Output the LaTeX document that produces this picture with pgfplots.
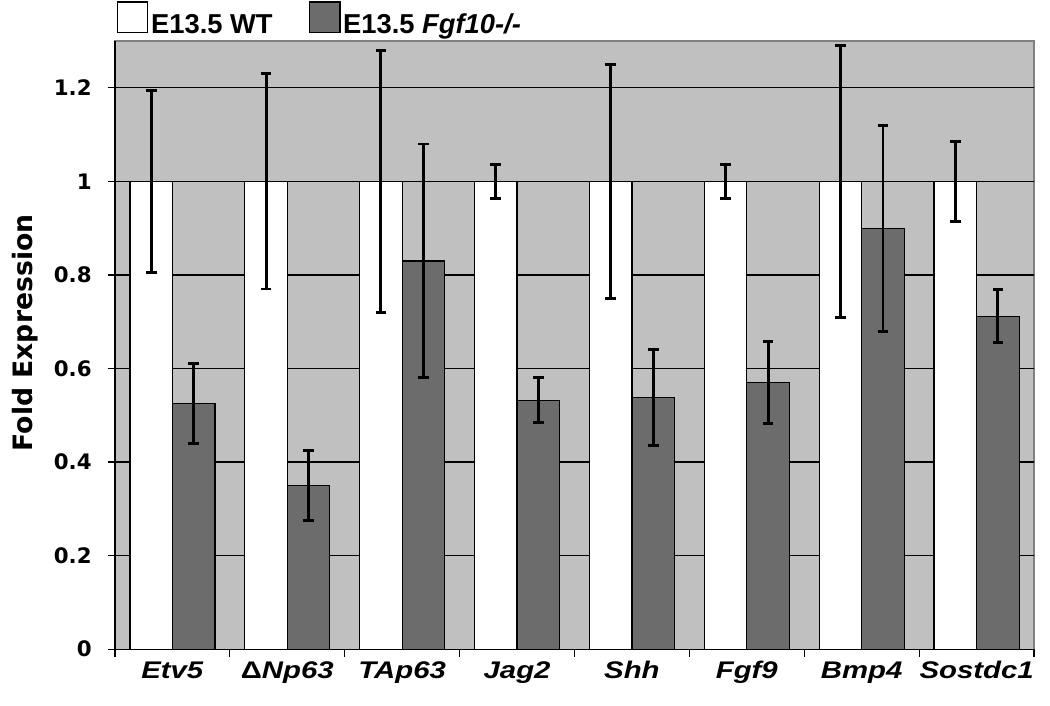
\documentclass[border=0pt]{standalone}
\usepackage{pgfplots}
\pgfplotsset{compat=1.18}
\usepackage{fontspec}
\setmainfont{Liberation Sans}
\newfontfamily\dv{DejaVu Sans}
\definecolor{bgray}{RGB}{192,192,192}
\definecolor{dgray}{RGB}{108,108,108}
\begin{document}
\begin{tikzpicture}
\begin{axis}[
  name=ax,
  scale only axis,
  width=689.25pt, height=456pt,
  xmin=-0.5, xmax=7.5,
  ymin=0, ymax=1.3,
  ybar=0pt, bar width=31.9pt,
  axis x line*=bottom, axis y line*=left,
  axis line style={black, line width=0.9pt},
  axis background/.style={fill=bgray, draw=gray, line width=0.9pt},
  ytick={0,0.2,0.4,0.6,0.8,1,1.2},
  ymajorgrids, major grid style={black, line width=0.9pt},
  xtick={0,1,2,3,4,5,6,7},
  xticklabels={\textit{Etv5},{{\upshape Δ}\textit{Np63}},\textit{TAp63},\textit{Jag2},\textit{Shh},\textit{Fgf9},\textit{Bmp4},\textit{Sostdc1}},
  minor xtick={-0.5,0.5,1.5,2.5,3.5,4.5,5.5,6.5,7.5},
  major x tick style={draw=none},
  minor x tick style={black, line width=0.9pt},
  y tick style={black, line width=0.9pt},
  tick align=outside,
  major tick length=5pt, minor tick length=6pt,
  xticklabel style={font=\fontsize{22}{24}\selectfont\bfseries, text height=16pt, text depth=0pt, anchor=north, yscale=0.82, yshift=-1.5pt},
  yticklabel style={font=\fontsize{16}{18}\selectfont\dv\bfseries, xshift=-9pt},
  /pgf/number format/assume math mode=true,
  ylabel={Fold Expression},
  every axis y label/.style={at={(axis description cs:-0.098,0.52)}, rotate=90, anchor=center},
  ylabel style={font=\fontsize{20}{22}\selectfont\dv\bfseries},
  legend style={at={(0,1)}, anchor=south west, xshift=0pt, yshift=1pt, draw=none, fill=none, inner sep=1pt,
    font=\fontsize{20.5}{22}\selectfont\bfseries, legend columns=2,
    /tikz/every even column/.append style={column sep=25pt}},
  clip=false,
]
\addplot[fill=white, draw=black, line width=0.9pt,
  legend image code/.code={\draw[fill=white, draw=black, line width=0.9pt] (0pt,-6pt) rectangle (23pt,17pt);},
  error bars/.cd, y dir=both, y explicit,
  error bar style={black, line width=2.2pt},
  error mark options={rotate=90, mark size=4pt, line width=2.2pt, black}]
  coordinates {
  (0,1) +- (0,0.195)
  (1,1) +- (0,0.23)
  (2,1) +- (0,0.28)
  (3,1) +- (0,0.036)
  (4,1) +- (0,0.25)
  (5,1) +- (0,0.036)
  (6,1) +- (0,0.29)
  (7,1) +- (0,0.085)
  };
\addplot[fill=dgray, draw=black, line width=0.9pt,
  legend image code/.code={\draw[fill=dgray, draw=black, line width=0.9pt] (0pt,-6pt) rectangle (23pt,17pt);},
  error bars/.cd, y dir=both, y explicit,
  error bar style={black, line width=2.2pt},
  error mark options={rotate=90, mark size=4pt, line width=2.2pt, black}]
  coordinates {
  (0,0.525) +- (0,0.085)
  (1,0.35) +- (0,0.075)
  (2,0.83) +- (0,0.25)
  (3,0.532) +- (0,0.048)
  (4,0.538) +- (0,0.102)
  (5,0.57) +- (0,0.087)
  (6,0.90) +- (0,0.22)
  (7,0.712) +- (0,0.056)
  };
\legend{E13.5 WT, E13.5 \textit{Fgf10-/-}}
\end{axis}
\path ([xshift=-86.25pt,yshift=-42pt]ax.south west) rectangle ([xshift=12pt,yshift=30pt]ax.north east);
\end{tikzpicture}
\end{document}
